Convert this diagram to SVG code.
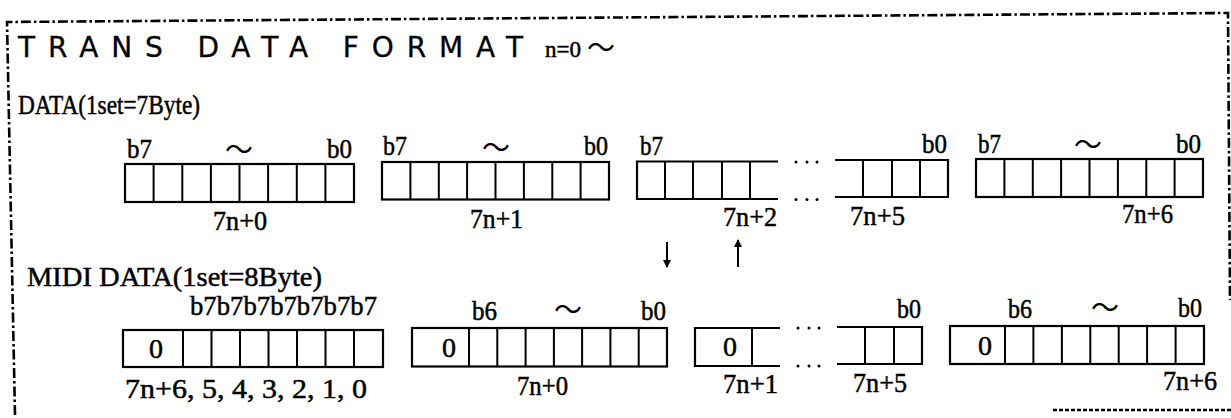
<svg xmlns="http://www.w3.org/2000/svg" width="1231" height="418" viewBox="0 0 1231 418">
<style>
.bx{fill:none;stroke:#000;stroke-width:2.2}
.dv{stroke:#000;stroke-width:2}
.lb{font-family:"Liberation Serif","DejaVu Serif",serif;font-size:28px;fill:#000;stroke:#000;stroke-width:0.5}
.zc{font-family:"Liberation Serif","DejaVu Serif",serif;font-size:28px;fill:#000;stroke:#000;stroke-width:0.5;text-anchor:middle}
.tl{font-family:"DejaVu Sans","Liberation Sans",sans-serif;font-size:28px;fill:#000;stroke:#000;stroke-width:0.3}
.wv{font-family:"Noto Sans CJK JP","Noto Sans CJK SC",sans-serif;font-size:28px;fill:#000;text-anchor:middle}
.brd{fill:none;stroke:#000;stroke-width:2.6;stroke-dasharray:10 3 2.5 3}
.dot{fill:#000}
.arr{stroke:#000;stroke-width:2;fill:none}
</style>
<defs>
<marker id="ah" markerUnits="userSpaceOnUse" markerWidth="8" markerHeight="8" refX="7" refY="4" orient="auto">
<path d="M0,0 L8,4 L0,8 z" fill="#000"/>
</marker>
</defs>
<rect width="1231" height="418" fill="#fff"/>
<g id="border">
<path class="brd" d="M15,415 L7,22 L1228,13 L1230,300"/>
<path class="brd" d="M1053,410 L1231,410" style="stroke-dasharray:4 2"/>
</g>
<g id="title">
<text class="tl" x="18" y="57" textLength="505" lengthAdjust="spacing">TRANS DATA FORMAT</text>
<text class="lb" x="545" y="57" textLength="36" lengthAdjust="spacingAndGlyphs" style="font-size:23px">n=0</text>
<text class="wv" x="601" y="58">〜</text>
</g>
<g id="data-label"><text class="lb" x="18" y="114" textLength="182" lengthAdjust="spacingAndGlyphs">DATA(1set=7Byte)</text></g>
<g id="midi-label"><text class="lb" x="27" y="286" textLength="295" lengthAdjust="spacingAndGlyphs">MIDI DATA(1set=8Byte)</text></g>

<g id="data-7n0">
<rect class="bx" x="125" y="164" width="229" height="38"/>
<path class="dv" d="M153.6,164V202M182.3,164V202M210.9,164V202M239.5,164V202M268.1,164V202M296.8,164V202M325.4,164V202"/>
<text class="lb" x="127" y="158" textLength="25" lengthAdjust="spacingAndGlyphs">b7</text>
<text class="wv" x="239" y="160">〜</text>
<text class="lb" x="327" y="158" textLength="25" lengthAdjust="spacingAndGlyphs">b0</text>
<text class="lb" x="213" y="230" textLength="54" lengthAdjust="spacingAndGlyphs">7n+0</text>
</g>
<g id="data-7n1">
<rect class="bx" x="382" y="162" width="227" height="37.5"/>
<path class="dv" d="M410.4,162V199.5M438.8,162V199.5M467.1,162V199.5M495.5,162V199.5M523.9,162V199.5M552.3,162V199.5M580.6,162V199.5"/>
<text class="lb" x="383" y="155" textLength="24" lengthAdjust="spacingAndGlyphs">b7</text>
<text class="wv" x="496" y="158">〜</text>
<text class="lb" x="584" y="155" textLength="24" lengthAdjust="spacingAndGlyphs">b0</text>
<text class="lb" x="470" y="228" textLength="53" lengthAdjust="spacingAndGlyphs">7n+1</text>
</g>
<g id="data-7n2">
<path class="bx" d="M778,161.5H637V199H778"/>
<path class="dv" d="M665,161.5V199M693,161.5V199M722,161.5V199M750,161.5V199"/>
<text class="lb" x="640" y="155" textLength="23" lengthAdjust="spacingAndGlyphs">b7</text>
<text class="lb" x="723" y="226" textLength="54" lengthAdjust="spacingAndGlyphs">7n+2</text>
</g>
<g id="data-gap">
<circle class="dot" cx="796" cy="162" r="1.5"/><circle class="dot" cx="807" cy="162" r="1.5"/><circle class="dot" cx="817" cy="162" r="1.5"/>
<circle class="dot" cx="796" cy="199.5" r="1.5"/><circle class="dot" cx="807" cy="199.5" r="1.5"/><circle class="dot" cx="817" cy="199.5" r="1.5"/>
</g>
<g id="data-7n5">
<path class="bx" d="M835,160H948V197H835"/>
<path class="dv" d="M863,160V197M892,160V197M920,160V197"/>
<text class="lb" x="922" y="153" textLength="25" lengthAdjust="spacingAndGlyphs">b0</text>
<text class="lb" x="850" y="225" textLength="55" lengthAdjust="spacingAndGlyphs">7n+5</text>
</g>
<g id="data-7n6">
<rect class="bx" x="976" y="159" width="227" height="38"/>
<path class="dv" d="M1004.4,159V197M1032.8,159V197M1061.1,159V197M1089.5,159V197M1117.9,159V197M1146.3,159V197M1174.6,159V197"/>
<text class="lb" x="978" y="153" textLength="23" lengthAdjust="spacingAndGlyphs">b7</text>
<text class="wv" x="1088" y="155">〜</text>
<text class="lb" x="1176" y="153" textLength="25" lengthAdjust="spacingAndGlyphs">b0</text>
<text class="lb" x="1122" y="223" textLength="51" lengthAdjust="spacingAndGlyphs">7n+6</text>
</g>

<g id="midi-b7">
<rect class="bx" x="123" y="330" width="260" height="37"/>
<path class="dv" d="M183,330V367M211.5,330V367M240,330V367M268.5,330V367M297,330V367M325.5,330V367M354,330V367"/>
<text class="lb" x="190" y="315" textLength="187" lengthAdjust="spacingAndGlyphs">b7b7b7b7b7b7b7</text>
<text class="zc" x="156" y="358">0</text>
<text class="lb" x="125" y="398" textLength="242" lengthAdjust="spacingAndGlyphs">7n+6, 5, 4, 3, 2, 1, 0</text>
</g>
<g id="midi-7n0">
<rect class="bx" x="412" y="328" width="255" height="38.5"/>
<path class="dv" d="M469,328V366.5M497.3,328V366.5M525.6,328V366.5M553.9,328V366.5M582.1,328V366.5M610.4,328V366.5M638.7,328V366.5"/>
<text class="lb" x="472" y="320" textLength="25" lengthAdjust="spacingAndGlyphs">b6</text>
<text class="wv" x="568" y="320">〜</text>
<text class="lb" x="641" y="320" textLength="25" lengthAdjust="spacingAndGlyphs">b0</text>
<text class="zc" x="449" y="357">0</text>
<text class="lb" x="517" y="395" textLength="51" lengthAdjust="spacingAndGlyphs">7n+0</text>
</g>
<g id="midi-7n1">
<path class="bx" d="M780,328H695V366H780"/>
<path class="dv" d="M752,328V366"/>
<text class="zc" x="730" y="356">0</text>
<text class="lb" x="723" y="393" textLength="55" lengthAdjust="spacingAndGlyphs">7n+1</text>
</g>
<g id="midi-gap">
<circle class="dot" cx="798" cy="328" r="1.5"/><circle class="dot" cx="809" cy="328" r="1.5"/><circle class="dot" cx="819" cy="328" r="1.5"/>
<circle class="dot" cx="798" cy="366" r="1.5"/><circle class="dot" cx="809" cy="366" r="1.5"/><circle class="dot" cx="819" cy="366" r="1.5"/>
</g>
<g id="midi-7n5">
<path class="bx" d="M837,327H922V364H837"/>
<path class="dv" d="M865,327V364M894,327V364"/>
<text class="lb" x="897" y="318" textLength="24" lengthAdjust="spacingAndGlyphs">b0</text>
<text class="lb" x="853" y="392" textLength="54" lengthAdjust="spacingAndGlyphs">7n+5</text>
</g>
<g id="midi-7n6">
<rect class="bx" x="950" y="326" width="254" height="38"/>
<path class="dv" d="M1005,326V364M1033.4,326V364M1061.9,326V364M1090.3,326V364M1118.7,326V364M1147.1,326V364M1175.6,326V364"/>
<text class="lb" x="1008" y="318" textLength="24" lengthAdjust="spacingAndGlyphs">b6</text>
<text class="wv" x="1105" y="318">〜</text>
<text class="lb" x="1178" y="317" textLength="24" lengthAdjust="spacingAndGlyphs">b0</text>
<text class="zc" x="985" y="355">0</text>
<text class="lb" x="1163" y="390" textLength="54" lengthAdjust="spacingAndGlyphs">7n+6</text>
</g>

<g id="connectors">
<line class="arr" x1="667" y1="242" x2="667" y2="267" marker-end="url(#ah)"/>
<line class="arr" x1="738" y1="267" x2="738" y2="240" marker-end="url(#ah)"/>
</g>
</svg>
